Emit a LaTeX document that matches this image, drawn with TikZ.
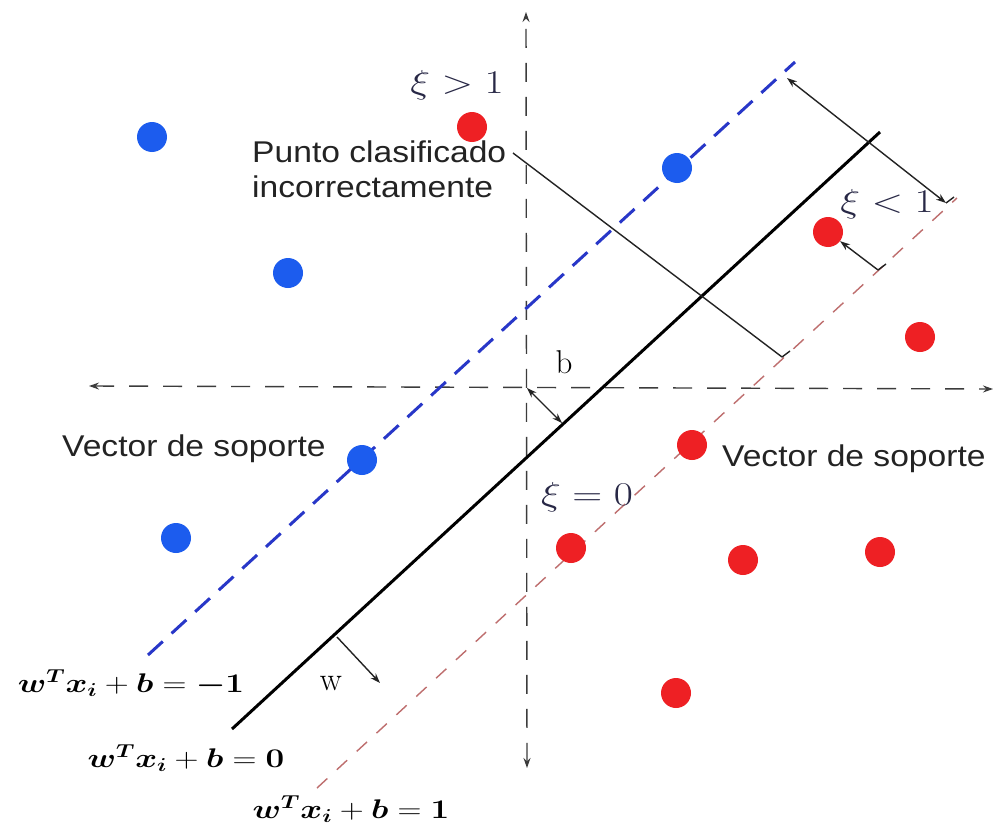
\documentclass[tikz,border=0pt]{standalone}
\usepackage{amsmath,bm}
\usepackage{fontspec}
\newfontfamily\lsans{Liberation Sans}
\usetikzlibrary{arrows.meta}
\definecolor{dotblue}{RGB}{28,92,238}
\definecolor{dotred}{RGB}{238,32,36}
\definecolor{bluedash}{RGB}{40,55,200}
\definecolor{reddash}{RGB}{190,110,110}
\definecolor{axisgray}{RGB}{60,60,60}
\definecolor{txtgray}{RGB}{35,35,35}
\definecolor{mathnavy}{RGB}{40,40,70}
\begin{document}
\begin{tikzpicture}[x=1pt,y=-1pt,
  bluept/.style={circle, fill=dotblue, minimum size=30pt, inner sep=0pt},
  redpt/.style={circle, fill=dotred, minimum size=30pt, inner sep=0pt},
  axisline/.style={draw=axisgray, line width=1.4pt, dash pattern=on 19pt off 15pt},
  hyper/.style={draw=black, line width=3pt},
  bluehyper/.style={draw=bluedash, line width=3pt, dash pattern=on 20pt off 12pt},
  redhyper/.style={draw=reddash, line width=1.4pt, dash pattern=on 14pt off 13pt},
  thinline/.style={draw=txtgray, line width=1.4pt},
  tipA/.tip={Stealth[length=10pt,width=7pt]},
  sanslbl/.style={inner sep=0pt, text=txtgray, font=\lsans\fontsize{30}{35}\selectfont, xscale=1.12},
  xilbl/.style={inner sep=0pt, text=mathnavy, font=\fontsize{20}{24}\selectfont, xscale=2.0, yscale=1.6},
  eqlbl/.style={inner sep=0pt, text=black, font=\fontsize{20}{24}\selectfont, xscale=1.6, yscale=1.3},
  romlbl/.style={inner sep=0pt, text=black, font=\fontsize{33}{36}\selectfont}
]
\useasboundingbox (0,0) rectangle (994,827);
\fill[white] (0,0) rectangle (994,827);

% axes
\coordinate (axT) at (526,12);
\coordinate (axB) at (527,768);
\coordinate (axL) at (89,386);
\coordinate (axR) at (993,389);
\coordinate (orig) at (527,388);
\draw[axisline, tipA-tipA] (axB) -- (axT);
\draw[axisline, tipA-tipA] (axL) -- (axR);

% hyperplanes
\coordinate (hA) at (232,729);
\coordinate (hB) at (880,132);
\coordinate (bA) at (148,655);
\coordinate (bB) at (795,62);
\coordinate (rA) at (317,788);
\coordinate (rB) at (957,198);
\draw[hyper] (hA) -- (hB);
\draw[bluehyper] (bA) -- (bB);
\draw[redhyper] (rA) -- (rB);

% points
\node[bluept] (p1) at (152,137) {};
\node[bluept] (p2) at (288,273) {};
\node[bluept] (p3) at (677,168) {};
\node[bluept] (p4) at (362,460) {};
\node[bluept] (p5) at (176,538) {};
\node[redpt] (q1) at (472,127) {};
\node[redpt] (q2) at (828,232) {};
\node[redpt] (q3) at (920,337) {};
\node[redpt] (q4) at (692,445) {};
\node[redpt] (q5) at (571,548) {};
\node[redpt] (q6) at (743,560) {};
\node[redpt] (q7) at (880,552) {};
\node[redpt] (q8) at (676,693) {};

% labels
\node[sanslbl, anchor=north west, align=left] (punto) at (252,141) {Punto clasificado\\incorrectamente};
\node[sanslbl, anchor=base west] (vsL) at (62,456) {Vector de soporte};
\node[sanslbl, anchor=base west] (vsR) at (722,466) {Vector de soporte};
\node[xilbl, anchor=base] (xig) at (457,93) {$\xi > 1$};
\node[xilbl, anchor=base] (xil) at (887,212) {$\xi < 1$};
\node[xilbl, anchor=base] (xie) at (587,505) {$\xi = 0$};
\node[romlbl] (blbl) at (564,362) {b};
\node[romlbl] (wlbl) at (331,684) {w};
\node[eqlbl, anchor=base] (eqm) at (131,692) {$\bm{w}^{\bm{T}}\bm{x}_{\bm{i}}+\bm{b}=\bm{-1}$};
\node[eqlbl, anchor=base] (eqz) at (186,767) {$\bm{w}^{\bm{T}}\bm{x}_{\bm{i}}+\bm{b}=\bm{0}$};
\node[eqlbl, anchor=base] (eqp) at (351,818) {$\bm{w}^{\bm{T}}\bm{x}_{\bm{i}}+\bm{b}=\bm{1}$};

% connectors
\coordinate (pS) at (513,153);
\coordinate (pE) at (782,357);
\draw[thinline] (pS) -- (pE);
\draw[thinline] (pE) -- ++(8,-6);
\coordinate (gA) at (787,78);
\coordinate (gB) at (946,203);
\draw[thinline, tipA-tipA] (gA) -- (gB);
\draw[thinline] (gB) -- ++(8,-6);
\coordinate (lA) at (878,270);
\draw[thinline, -tipA] (lA) -- (q2);
\draw[thinline] (lA) -- ++(8,-6);
\coordinate (bH) at (562,423);
\draw[thinline, tipA-tipA] (orig) -- (bH);
\coordinate (wS) at (337,637);
\coordinate (wE) at (380,683);
\draw[thinline, -tipA] (wS) -- (wE);
\end{tikzpicture}
\end{document}
